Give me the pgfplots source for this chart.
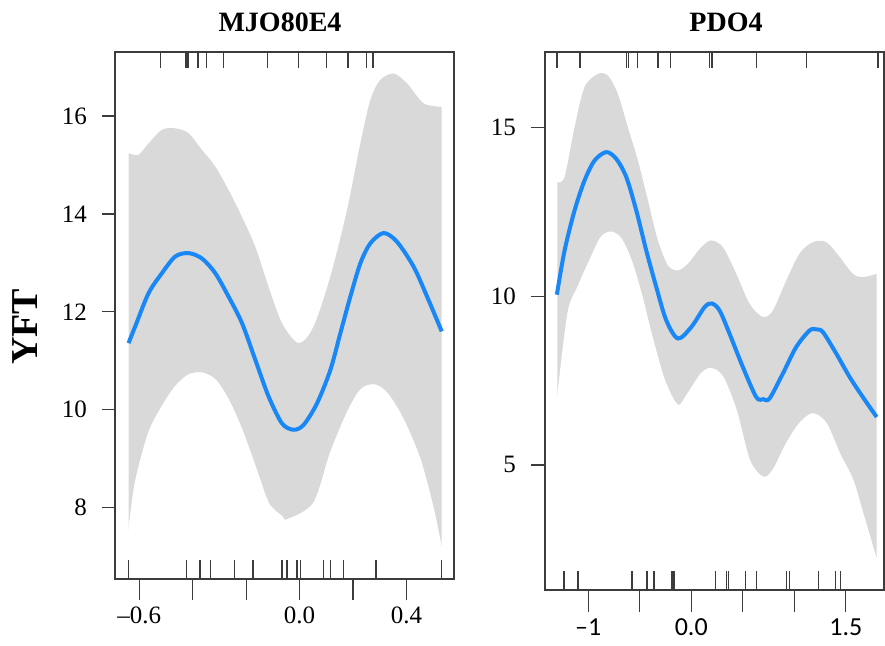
\documentclass[border=0pt]{standalone}
\usepackage{pgfplots}
\pgfplotsset{compat=1.18}
\usepackage{fontspec}
\setmainfont{Liberation Serif}
\newfontfamily\carlito{Carlito}
\definecolor{band}{RGB}{217,217,217}
\definecolor{curve}{RGB}{25,135,245}
\definecolor{axc}{RGB}{60,60,60}
\pgfplotsset{
  rug/.style={axc, line width=0.75pt, forget plot, unbounded coords=jump},
  common/.style={
    scale only axis,
    axis on top,
    axis line style={axc, line width=0.8pt},
    tick align=outside,
    xtick pos=bottom, ytick pos=left,
    major y tick style={draw=none},
    major x tick style={axc, line width=0.6pt},
    minor y tick style={axc, line width=0.6pt},
    /pgf/number format/assume math mode=true,
    ticklabel style={font=\fontsize{12.5}{14}\selectfont},
    yticklabel style={anchor=east},
    xticklabel style={anchor=north},
  }
}
\begin{document}
\begin{tikzpicture}
\path[use as bounding box] (0pt,0pt) rectangle (442.5pt,323pt);
\begin{axis}[common,
  at={(57.5pt,33.5pt)}, anchor=south west,
  width=169.5pt, height=263.5pt,
  xmin=-0.691, xmax=0.578, ymin=6.54, ymax=17.31,
  xtick={-0.6,-0.4,-0.2,0,0.2,0.4},
  xticklabels={\textendash0.6,,,0.0,,0.4},
  major tick length=10.5pt,
  minor tick length=6.5pt,
  ytick={8,10,12,14,16},
  minor ytick={8,10,12,14,16},
]
% upper limit of the band, filled down; lower limit, filled white
\addplot[fill=band, draw=none, smooth] coordinates {
(-0.6404,15.24) (-0.603,15.21) (-0.5655,15.44) (-0.5154,15.72) (-0.4655,15.75) (-0.4157,15.65) (-0.3655,15.31) (-0.3157,14.97) (-0.2659,14.49) (-0.2157,13.94) (-0.1659,13.33) (-0.1161,12.51) (-0.0659,11.77) (-0.0037,11.36) (0.0524,11.70) (0.115,12.72) (0.1775,14.08) (0.2273,15.44) (0.2648,16.33) (0.3022,16.74) (0.3521,16.87) (0.4022,16.67) (0.4644,16.26) (0.532,16.19)
} \closedcycle;
\addplot[fill=white, draw=white, line width=0.5pt, smooth] coordinates {
(-0.6404,7.48) (-0.6154,8.50) (-0.5655,9.52) (-0.5154,10.06) (-0.4655,10.47) (-0.4157,10.71) (-0.3655,10.75) (-0.3157,10.61) (-0.2659,10.20) (-0.2157,9.59) (-0.1659,8.84) (-0.1161,8.09) (-0.0659,7.82) (-0.0472,7.75) (0.0524,8.09) (0.115,9.11) (0.1775,9.93) (0.2273,10.40) (0.2772,10.51) (0.3273,10.34) (0.3895,9.79) (0.4521,8.97) (0.5019,7.95) (0.532,7.14)
} \closedcycle;
\addplot[curve, line width=2pt, smooth] coordinates {
(-0.6404,11.36) (-0.6154,11.70) (-0.5655,12.38) (-0.5154,12.79) (-0.4655,13.13) (-0.4157,13.20) (-0.3655,13.09) (-0.3157,12.79) (-0.2659,12.31) (-0.2157,11.77) (-0.1659,11.02) (-0.1161,10.27) (-0.0659,9.72) (-0.0225,9.59) (0.015,9.69) (0.0652,10.13) (0.115,10.81) (0.1524,11.56) (0.1899,12.31) (0.2273,12.99) (0.2648,13.40) (0.3146,13.61) (0.3648,13.43) (0.4270,12.92) (0.4772,12.31) (0.532,11.60)
};
% bottom rug
\addplot[rug] coordinates {
(-0.640,6.54) (-0.640,6.93) (nan,nan)
(-0.424,6.54) (-0.424,6.93) (nan,nan)
(-0.372,6.54) (-0.372,6.93) (nan,nan)
(-0.334,6.54) (-0.334,6.93) (nan,nan)
(-0.243,6.54) (-0.243,6.93) (nan,nan)
(-0.175,6.54) (-0.175,6.93) (nan,nan)
(-0.066,6.54) (-0.066,6.93) (nan,nan)
(-0.047,6.54) (-0.047,6.93) (nan,nan)
(-0.010,6.54) (-0.010,6.93) (nan,nan)
(0.003,6.54) (0.003,6.93) (nan,nan)
(0.090,6.54) (0.090,6.93) (nan,nan)
(0.115,6.54) (0.115,6.93) (nan,nan)
(0.165,6.54) (0.165,6.93) (nan,nan)
(0.286,6.54) (0.286,6.93) (nan,nan)
(0.531,6.54) (0.531,6.93)
};
% top rug
\addplot[rug] coordinates {
(-0.521,17.31) (-0.521,16.98) (nan,nan)
(-0.425,17.31) (-0.425,16.98) (nan,nan)
(-0.418,17.31) (-0.418,16.98) (nan,nan)
(-0.381,17.31) (-0.381,16.98) (nan,nan)
(-0.349,17.31) (-0.349,16.98) (nan,nan)
(-0.285,17.31) (-0.285,16.98) (nan,nan)
(-0.121,17.31) (-0.121,16.98) (nan,nan)
(-0.005,17.31) (-0.005,16.98) (nan,nan)
(0.101,17.31) (0.101,16.98) (nan,nan)
(0.181,17.31) (0.181,16.98) (nan,nan)
(0.250,17.31) (0.250,16.98) (nan,nan)
(0.275,17.31) (0.275,16.98)
};
\end{axis}
\begin{axis}[common,
  at={(272.5pt,28pt)}, anchor=south west,
  width=169.5pt, height=269pt,
  xmin=-1.42, xmax=1.871, ymin=1.29, ymax=17.25,
  xtick={-1,-0.5,0,0.5,1,1.5},
  xticklabels={\textendash1,,0.0,,,1.5},
  xticklabel style={font=\carlito\fontsize{13}{15}\selectfont},
  major tick length=11pt,
  minor tick length=7pt,
  ytick={5,10,15},
  minor ytick={5,10,15},
]
\addplot[fill=band, draw=none, smooth] coordinates {
(-1.301,13.39) (-1.230,13.54) (-1.133,15.02) (-1.036,16.21) (-0.907,16.60) (-0.810,16.55) (-0.713,16.01) (-0.616,15.02) (-0.518,14.03) (-0.421,12.85) (-0.324,11.66) (-0.227,10.92) (-0.130,10.77) (-0.033,10.97) (0.097,11.46) (0.194,11.66) (0.307,11.46) (0.437,10.67) (0.566,9.78) (0.695,9.39) (0.792,9.58) (0.922,10.47) (1.051,11.27) (1.181,11.61) (1.311,11.61) (1.440,11.17) (1.569,10.67) (1.666,10.57) (1.800,10.67)
} \closedcycle;
\addplot[fill=white, draw=white, line width=0.5pt, smooth] coordinates {
(-1.301,6.92) (-1.198,9.49) (-1.101,10.28) (-0.971,11.17) (-0.874,11.76) (-0.777,11.91) (-0.680,11.71) (-0.583,11.07) (-0.485,10.08) (-0.388,8.89) (-0.259,7.51) (-0.130,6.77) (-0.033,7.12) (0.097,7.71) (0.194,7.86) (0.307,7.61) (0.437,6.62) (0.566,5.14) (0.695,4.64) (0.792,4.84) (0.922,5.63) (1.051,6.23) (1.181,6.52) (1.311,6.23) (1.440,5.34) (1.569,4.55) (1.666,3.56) (1.800,2.17)
} \closedcycle;
\addplot[curve, line width=2pt, smooth] coordinates {
(-1.305,10.05) (-1.230,11.36) (-1.133,12.55) (-1.036,13.44) (-0.939,14.03) (-0.825,14.28) (-0.728,14.08) (-0.631,13.54) (-0.534,12.55) (-0.437,11.36) (-0.340,10.28) (-0.243,9.29) (-0.130,8.75) (0.0,9.09) (0.129,9.68) (0.20,9.79) (0.275,9.58) (0.372,8.89) (0.501,7.90) (0.631,7.01) (0.700,6.95) (0.760,6.97) (0.889,7.71) (1.019,8.50) (1.149,8.99) (1.215,9.02) (1.278,8.94) (1.408,8.30) (1.537,7.61) (1.666,7.01) (1.800,6.42)
};
% bottom rug
\addplot[rug] coordinates {
(-1.237,1.29) (-1.237,1.85) (nan,nan)
(-1.101,1.29) (-1.101,1.85) (nan,nan)
(-0.577,1.29) (-0.577,1.85) (nan,nan)
(-0.431,1.29) (-0.431,1.85) (nan,nan)
(-0.363,1.29) (-0.363,1.85) (nan,nan)
(-0.188,1.29) (-0.188,1.85) (nan,nan)
(-0.169,1.29) (-0.169,1.85) (nan,nan)
(0.236,1.29) (0.236,1.85) (nan,nan)
(0.340,1.29) (0.340,1.85) (nan,nan)
(0.362,1.29) (0.362,1.85) (nan,nan)
(0.527,1.29) (0.527,1.85) (nan,nan)
(0.631,1.29) (0.631,1.85) (nan,nan)
(0.922,1.29) (0.922,1.85) (nan,nan)
(0.954,1.29) (0.954,1.85) (nan,nan)
(1.233,1.29) (1.233,1.85) (nan,nan)
(1.401,1.29) (1.401,1.85) (nan,nan)
(1.450,1.29) (1.450,1.85)
};
% top rug
\addplot[rug] coordinates {
(-1.305,17.25) (-1.305,16.78) (nan,nan)
(-1.078,17.25) (-1.078,16.78) (nan,nan)
(-0.631,17.25) (-0.631,16.78) (nan,nan)
(-0.609,17.25) (-0.609,16.78) (nan,nan)
(-0.524,17.25) (-0.524,16.78) (nan,nan)
(-0.324,17.25) (-0.324,16.78) (nan,nan)
(-0.201,17.25) (-0.201,16.78) (nan,nan)
(0.178,17.25) (0.178,16.78) (nan,nan)
(0.200,17.25) (0.200,16.78) (nan,nan)
(0.631,17.25) (0.631,16.78) (nan,nan)
(1.117,17.25) (1.117,16.78) (nan,nan)
(1.812,17.25) (1.812,16.78)
};
\end{axis}
\node[font=\bfseries\fontsize{14}{16}\selectfont] at (140pt,312pt) {MJO80E4};
\node[font=\bfseries\fontsize{14}{16}\selectfont] at (363pt,312pt) {PDO4};
\node[font=\bfseries\fontsize{19}{22}\selectfont, rotate=90] at (12.5pt,159.5pt) {YFT};
\end{tikzpicture}
\end{document}
